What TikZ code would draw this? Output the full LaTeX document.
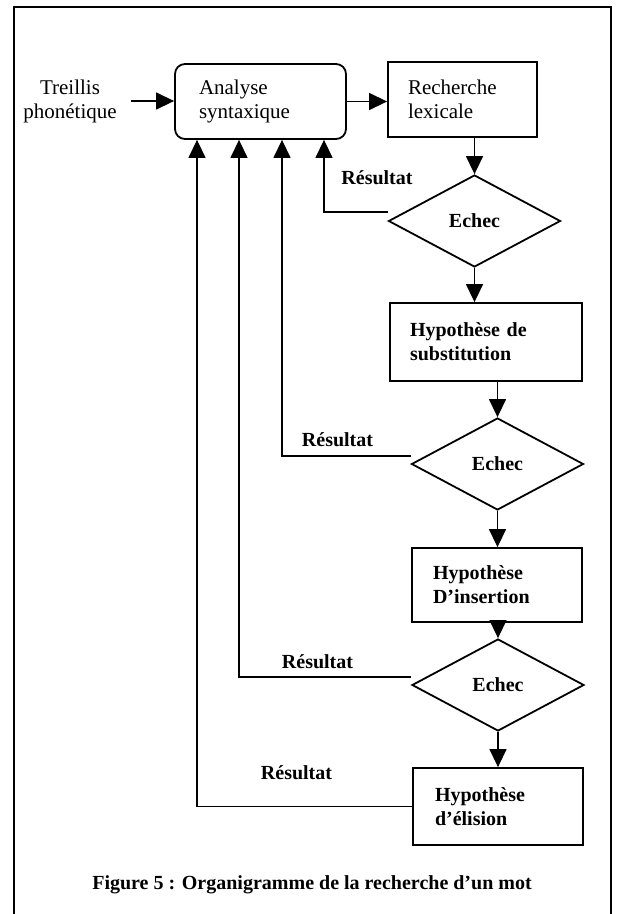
\documentclass[tikz,border=0pt]{standalone}
\usepackage{fontspec}
\setmainfont{Liberation Serif}
\usetikzlibrary{shapes.geometric}
\usetikzlibrary{arrows.meta}

\begin{document}
\begin{tikzpicture}[x=1pt, y=-1pt,
    font=\fontsize{21}{24}\selectfont,
    gras/.style={font=\fontsize{20}{24}\selectfont\bfseries},
    box/.style={draw, line width=1.8pt, align=left, inner xsep=20pt, inner ysep=0pt},
    decision/.style={diamond, draw, line width=1.8pt, inner sep=0pt,
      minimum width=172pt, minimum height=92pt, gras},
    flow/.style={line width=1.4pt, -{Triangle[length=18pt, width=17pt]}}]
  \useasboundingbox (0,0) rectangle (618,914);
  \clip (0,0) rectangle (618,914);

  \draw[line width=2pt] (14,7) rectangle (611,930);

  \node[align=center, inner xsep=14pt] (treillis) at (70,101) {Treillis\\phonétique};
  \node[box, rounded corners=10pt, inner xsep=24pt, text width=123pt, minimum height=75pt]
    (analyse) at (260.5,101.5) {Analyse\\syntaxique};
  \node[box, text width=109pt, minimum height=75pt] (recherche) at (462.5,99.5) {Recherche\\lexicale};

  \node[decision] (d1) at (474.5,221) {Echec};
  \node[box, gras, text width=152pt, minimum height=78pt] (hsub) at (486,342) {Hypothèse de\\substitution};
  \node[decision] (d2) at (497.5,464) {Echec};
  \node[box, gras, inner xsep=21pt, text width=128pt, minimum height=74pt] (hins) at (497,585) {Hypothèse\\D'insertion};
  \node[decision] (d3) at (498,685) {Echec};
  \node[box, gras, inner xsep=22pt, text width=126pt, minimum height=77pt] (heli) at (498,806.5) {Hypothèse\\d'élision};

  \node[gras] (r1) at (377,178) {Résultat};
  \node[gras] (r2) at (337.5,440) {Résultat};
  \node[gras] (r3) at (317.5,662) {Résultat};
  \node[gras] (r4) at (296.5,773) {Résultat};

  \node[gras] (legende) at (312,885) {Figure 5 : Organigramme de la recherche d'un mot};

  % chemin principal
  \draw[flow] (treillis.east) -- (treillis.east -| analyse.west);
  \draw[flow] (analyse.east) -- (analyse.east -| recherche.west);
  \draw[flow] (recherche.south -| d1.north) -- (d1.north);
  \draw[flow] (d1.south) -- (d1.south |- hsub.north);
  \draw[flow] (hsub.south -| d2.north) -- (d2.north);
  \draw[flow] (d2.south) -- (d2.south |- hins.north);
  \draw[flow] (hins.south -| d3.north) -- (d3.north);
  \draw[flow] (d3.south) -- (d3.south |- heli.north);

  % retours vers l'analyse
  \draw[flow] ([yshift=9pt]d1.west) -| ([xshift=63.5pt]analyse.south);
  \draw[flow] ([yshift=8pt]d2.west) -| ([xshift=21.5pt]analyse.south);
  \draw[flow] ([yshift=8pt]d3.west) -| ([xshift=-21.5pt]analyse.south);
  \draw[flow] (heli.west) -| ([xshift=-63.5pt]analyse.south);

\end{tikzpicture}
\end{document}
